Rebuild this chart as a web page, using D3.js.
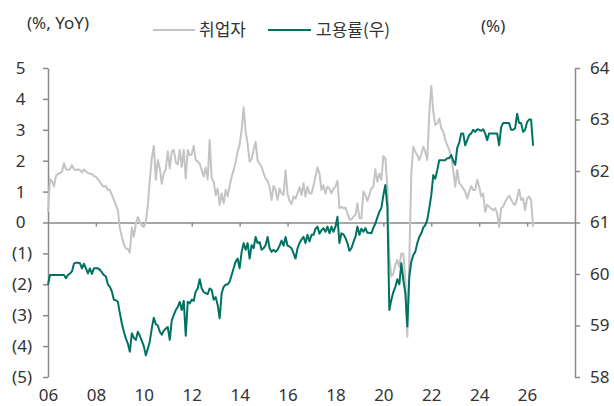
<!DOCTYPE html>
<html>
<head>
<meta charset="utf-8">
<script src="https://cdn.jsdelivr.net/npm/d3@7.9.0/dist/d3.min.js"></script>
<style>
  body { margin: 0; background: #fff; }
  svg { display: block; font-family: "Noto Sans", "Noto Sans CJK KR", sans-serif; }
  .axis text { fill: #333; font-size: 17px; font-family: "Noto Sans", "Noto Sans CJK KR", sans-serif; }
  .axis path, .axis line { stroke: #8a8a8a; stroke-width: 1.5; }
</style>
</head>
<body>
<div id="chart"></div>
<script>
// monthly data, Jan 2006 onward
const startYear = 2006;

// 취업자 증감률 (%, YoY) - left axis
const employedYoY = [
  0.35, 1.4, 1.35, 1.16, 1.5, 1.58, 1.6, 1.64, 1.92, 1.72, 1.70, 1.72,      // 2006
  1.86, 1.72, 1.70, 1.72, 1.70, 1.62, 1.72, 1.66, 1.60, 1.58, 1.58, 1.50,   // 2007
  1.48, 1.40, 1.32, 1.21, 1.16, 1.18, 1.05, 1.05, 0.89, 0.73, 0.57, 0.40,   // 2008
  -0.19, -0.46, -0.7, -0.84, -0.86, -0.98, -0.16, -0.46, -0.04, 0.18, 0.02, -0.1, // 2009
  -0.14, 0.0, 0.55, 1.38, 2.08, 2.48, 1.38, 2.02, 1.75, 1.25, 1.59, 1.72,   // 2010
  2.3, 1.75, 2.3, 2.35, 1.95, 1.88, 2.35, 1.8, 2.35, 1.43, 2.35, 2.18,      // 2011
  2.2, 2.48, 2.02, 1.97, 1.9, 1.7, 1.48, 1.78, 1.4, 2.67, 1.43, 1.32,       // 2012
  0.89, 1.1, 0.57, 0.94, 0.62, 1.05, 0.85, 1.2, 1.48, 1.7, 1.95, 2.3,       // 2013
  2.52, 3.0, 3.73, 2.95, 2.55, 1.97, 2.05, 2.35, 2.61, 2.0, 1.9, 1.8,       // 2014
  1.6, 1.43, 1.35, 1.16, 0.73, 1.18, 1.05, 0.73, 1.1, 0.94, 0.89, 1.68,     // 2015
  0.94, 0.7, 0.6, 0.84, 0.78, 0.95, 1.14, 0.89, 1.27, 0.84, 1.16, 0.94,     // 2016
  0.94, 1.2, 1.48, 1.78, 1.59, 1.05, 1.21, 0.94, 1.16, 1.1, 0.94, 1.1,      // 2017
  1.16, 1.35, 0.46, 0.51, 0.46, 0.48, 0.3, 0.1, 0.1, 0.19, 0.24, 0.62,      // 2018
  0.14, 0.14, 1.0, 0.89, 0.7, 0.9, 1.1, 1.16, 1.72, 1.32, 1.59, 1.38,       // 2019
  2.15, 2.08, 1.16, -1.11, -1.75, -1.64, -1.38, -1.21, -1.43, -1.0, -1.0, -1.86, // 2020
  -3.7, -1.2, 1.59, 2.45, 2.29, 2.18, 2.02, 2.2, 2.45, 2.29, 2.02, 3.53,    // 2021
  4.42, 3.59, 3.16, 3.21, 3.37, 3.05, 2.94, 2.67, 2.5, 2.35, 2.13, 1.7,     // 2022
  1.16, 1.7, 1.27, 1.21, 1.1, 1.0, 0.78, 1.0, 1.18, 1.05, 1.05, 1.38,       // 2023
  1.16, 0.84, 0.94, 0.35, 0.57, 0.51, 0.45, 0.4, 0.46, 0.3, -0.14, 0.46,    // 2024
  0.51, 0.67, 0.78, 0.86, 0.75, 0.62, 0.57, 0.78, 1.07, 0.73, 0.78, 0.4,    // 2025
  0.78, 0.84, 0.73, -0.14                                                   // 2026
];

// 고용률 (%) - right axis
const employmentRate = [
  59.79, 59.98, 59.98, 59.98, 59.98, 59.98, 59.98, 59.98, 59.98, 59.92, 59.98, 60.01, // 2006
  60.05, 60.2, 60.22, 60.22, 60.21, 60.11, 60.2, 60.11, 60.01, 60.11, 60.0, 60.11,    // 2007
  60.11, 60.11, 60.08, 60.03, 59.98, 59.95, 59.8, 59.75, 59.66, 59.5, 59.49, 59.46,  // 2008
  59.24, 59.04, 58.88, 58.75, 58.65, 58.49, 58.85, 58.76, 58.72, 58.88, 58.8, 58.7,  // 2009
  58.6, 58.42, 58.55, 58.69, 58.95, 59.15, 59.03, 59.0, 58.88, 58.82, 58.9, 58.94,   // 2010
  58.97, 58.72, 59.1, 59.2, 59.3, 59.36, 59.46, 59.3, 59.48, 58.8, 59.46, 59.43,     // 2011
  59.5, 59.48, 59.66, 59.72, 59.9, 59.72, 59.65, 59.63, 59.61, 59.72, 59.69, 59.5,   // 2012
  59.55, 59.4, 59.14, 59.63, 59.75, 59.79, 59.8, 59.85, 59.98, 60.11, 60.24, 60.3,   // 2013
  60.11, 60.43, 60.6, 60.47, 60.6, 60.3, 60.56, 60.5, 60.72, 60.6, 60.62, 60.47,     // 2014
  60.5, 60.56, 60.72, 60.5, 60.43, 60.47, 60.43, 60.47, 60.55, 60.65, 60.55, 60.72,  // 2015
  60.55, 60.53, 60.5, 60.4, 60.3, 60.5, 60.6, 60.67, 60.72, 60.6, 60.76, 60.63,      // 2016
  60.76, 60.76, 60.88, 60.92, 60.78, 60.85, 60.89, 60.82, 60.92, 60.79, 60.92, 60.82, // 2017
  60.92, 61.11, 60.6, 60.79, 60.77, 60.7, 60.6, 60.45, 60.5, 60.62, 60.72, 60.92,    // 2018
  60.76, 60.88, 60.82, 60.89, 60.8, 60.8, 60.79, 60.9, 60.98, 61.1, 61.21, 61.28,    // 2019
  61.53, 61.73, 61.3, 59.3, 59.5, 59.65, 59.75, 59.9, 59.8, 60.21, 59.88, 59.63,     // 2020
  58.98, 59.95, 60.24, 60.37, 60.43, 60.6, 60.72, 60.79, 60.9, 60.95, 61.05, 61.28,  // 2021
  61.53, 61.92, 61.85, 62.02, 62.21, 62.21, 62.21, 62.21, 62.25, 62.25, 62.31, 62.2, // 2022
  62.12, 62.45, 62.55, 62.73, 62.73, 62.5, 62.6, 62.7, 62.73, 62.8, 62.76, 62.81,    // 2023
  62.8, 62.78, 62.81, 62.73, 62.6, 62.73, 62.73, 62.73, 62.73, 62.73, 62.5, 62.85,   // 2024
  62.93, 62.93, 62.93, 62.93, 62.8, 62.8, 62.83, 63.11, 62.93, 62.93, 62.76, 62.8,   // 2025
  62.95, 63.0, 63.0, 62.49                                                           // 2026
];

const xTickYears = [2006, 2008, 2010, 2012, 2014, 2016, 2018, 2020, 2022, 2024, 2026];
const leftTicks = [5, 4, 3, 2, 1, 0, -1, -2, -3, -4, -5];
const rightTicks = [64, 63, 62, 61, 60, 59, 58];
const legendLabels = ['취업자', '고용률(우)'];

const width = 614, height = 406;
const grayColor = '#c4c4c4';
const greenColor = '#007261';

const svg = d3.select('#chart').append('svg')
  .attr('width', width).attr('height', height);

const x = d3.scaleLinear().domain([2006, 2028]).range([48, 575]);
const yLeft = d3.scaleLinear().domain([-5, 5]).range([377, 68]);
const yRight = d3.scaleLinear().domain([58, 64]).range([377, 68]);

const toDate = (i) => startYear + i / 12;

// x baseline at zero with small ticks
svg.append('g')
  .attr('class', 'axis')
  .attr('transform', `translate(0, ${yLeft(0)})`)
  .call(d3.axisBottom(x).tickValues(xTickYears.slice(1)).tickSize(4).tickSizeOuter(0).tickFormat(''));

// x labels at bottom
const xLabels = svg.append('g')
  .attr('class', 'axis')
  .attr('transform', `translate(0, ${height - 23})`)
  .call(d3.axisBottom(x).tickValues(xTickYears).tickSize(0)
    .tickFormat(d => String(d % 100).padStart(2, '0')));
xLabels.select('.domain').remove();
xLabels.selectAll('text').attr('dy', '0.9em');

// left axis
const leftAxis = svg.append('g')
  .attr('class', 'axis')
  .attr('transform', 'translate(48, 0)')
  .call(d3.axisLeft(yLeft).tickValues(leftTicks).tickSize(5).tickSizeOuter(0)
    .tickFormat(d => d < 0 ? `(${-d})` : d));
leftAxis.selectAll('text')
  .attr('x', d => d < 0 ? -16 : -22.5);

// right axis
const rightAxis = svg.append('g')
  .attr('class', 'axis')
  .attr('transform', 'translate(575, 0)')
  .call(d3.axisRight(yRight).tickValues(rightTicks).tickSize(5).tickSizeOuter(0)
    .tickFormat(d3.format('d')));
rightAxis.selectAll('text').attr('x', 15);

// lines
const grayLine = d3.line()
  .x((d, i) => x(toDate(i)))
  .y(d => yLeft(d));
const greenLine = d3.line()
  .x((d, i) => x(toDate(i)))
  .y(d => yRight(d));

svg.append('path')
  .datum(employedYoY)
  .attr('fill', 'none')
  .attr('stroke', grayColor)
  .attr('stroke-width', 2)
  .attr('stroke-linejoin', 'round')
  .attr('d', grayLine);

svg.append('path')
  .datum(employmentRate)
  .attr('fill', 'none')
  .attr('stroke', greenColor)
  .attr('stroke-width', 2)
  .attr('stroke-linejoin', 'round')
  .attr('d', greenLine);

// unit labels
svg.append('text').attr('x', 27).attr('y', 29)
  .attr('font-size', 17).attr('fill', '#333').text('(%, YoY)');
svg.append('text').attr('x', 481).attr('y', 32)
  .attr('font-size', 17).attr('fill', '#333').text('(%)');

// legend
const legend = [
  { label: legendLabels[0], color: grayColor, x0: 153, x1: 195, tx: 199 },
  { label: legendLabels[1], color: greenColor, x0: 268, x1: 311, tx: 316 }
];
legend.forEach(d => {
  svg.append('line')
    .attr('x1', d.x0).attr('x2', d.x1).attr('y1', 30).attr('y2', 30)
    .attr('stroke', d.color).attr('stroke-width', 2);
  svg.append('text')
    .attr('x', d.tx).attr('y', 36)
    .attr('font-size', 17).attr('fill', '#333')
    .attr('font-family', '"Noto Sans CJK KR", sans-serif')
    .text(d.label);
});
</script>
</body>
</html>
